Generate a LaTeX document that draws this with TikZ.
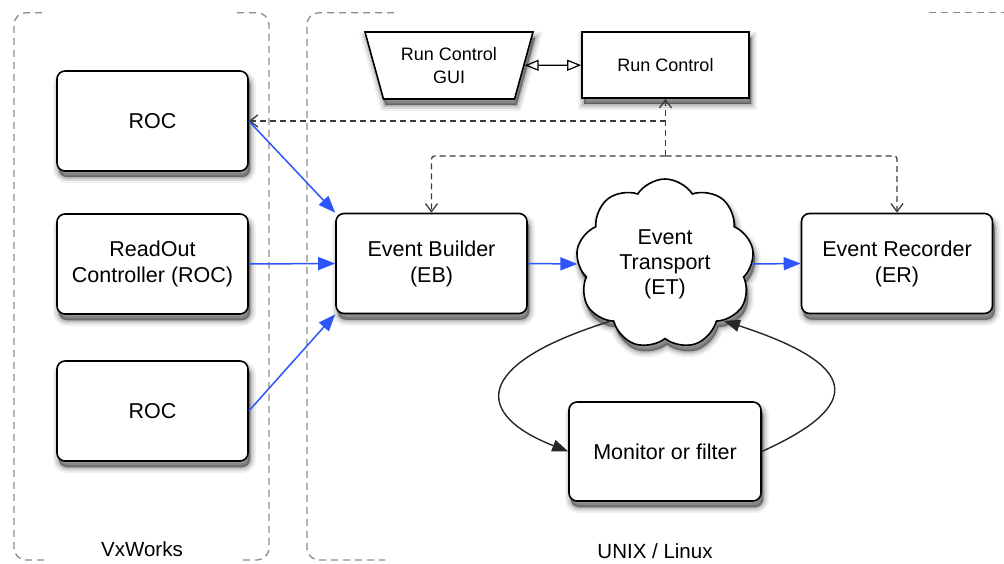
\documentclass[tikz,border=0pt]{standalone}
\usepackage{fontspec}
\setmainfont{Liberation Sans}
\usetikzlibrary{arrows.meta,shapes.geometric,shapes.symbols}
\definecolor{flowblue}{RGB}{45,85,250}
\definecolor{ctlgray}{RGB}{60,60,60}
\definecolor{boxgray}{RGB}{140,140,140}
\tikzset{
  shad/.style={
    preaction={draw=black,fill=black,line width=12pt,opacity=0.06,transform canvas={xshift=2pt,yshift=-6pt}},
    preaction={draw=black,fill=black,line width=8pt,opacity=0.09,transform canvas={xshift=2pt,yshift=-6pt}},
    preaction={draw=black,fill=black,line width=4pt,opacity=0.13,transform canvas={xshift=2pt,yshift=-6pt}},
    preaction={draw=black,fill=black,line width=1pt,opacity=0.18,transform canvas={xshift=2pt,yshift=-6pt}}},
  procbox/.style={draw,line width=1.6pt,fill=white,rounded corners=8pt,minimum width=191pt,minimum height=100pt,
    align=center,font=\fontsize{21.5}{26}\selectfont,shad,inner sep=0pt},
  flow/.style={draw=flowblue,line width=1.5pt,-{Triangle[length=17pt,width=13pt]}},
  ctl/.style={draw=ctlgray,line width=1.3pt,dash pattern=on 6pt off 4pt,-{Straight Barb[length=8pt,width=12pt]}},
  loopline/.style={draw=black!85,line width=1.4pt,-{Triangle[length=16pt,width=12pt]}},
  regionline/.style={draw=boxgray,line width=1.3pt,dash pattern=on 7pt off 5pt,rounded corners=12pt},
  regionlabel/.style={font=\fontsize{20.5}{24}\selectfont},
}
\begin{document}
\begin{tikzpicture}[x=1pt,y=-1pt]
\useasboundingbox (0,0) rectangle (1004,564);

% region outlines
\draw[regionline] (42,12.7) -- (14,12.7) -- (14,560) -- (48,560);
\draw[regionline] (237,12.7) -- (269,12.7) -- (269,560) -- (243,560);
\draw[regionline] (394,12.7) -- (307,12.7) -- (307,560) -- (385,560);
\draw[regionline] (929,12.7) -- (1004,12.7);
\node[regionlabel] (vx) at (142,549) {VxWorks};
\node[regionlabel] (ux) at (655,551) {UNIX / Linux};

% nodes
\node[procbox] (roca) at (152.5,121) {ROC};
\node[procbox] (rocb) at (152.5,264) {ReadOut\\Controller (ROC)};
\node[procbox] (rocc) at (152.5,411) {ROC};
\node[procbox] (eb) at (431.5,263.5) {Event Builder\\(EB)};
\node[procbox] (er) at (897,263.5) {Event Recorder\\(ER)};
\node[procbox,minimum width=192pt,minimum height=99pt] (mon) at (665,451.5) {Monitor or filter};
\node[procbox,rounded corners=0pt,minimum width=167pt,minimum height=66pt,font=\fontsize{18}{22}\selectfont] (rc) at (665.5,65) {Run Control};
\node[draw,line width=1.6pt,fill=white,trapezium,shape border rotate=180,trapezium angle=63,
  trapezium stretches body,minimum width=168pt,minimum height=67pt,inner sep=0pt,shad,
  align=center,font=\fontsize{18}{23}\selectfont] (gui) at (449,65.5) {Run Control\\GUI};
\node[draw,line width=1.6pt,fill=white,cloud,cloud puffs=9,cloud puff arc=115,cloud ignores aspect,
  minimum width=178pt,minimum height=170pt,inner sep=0pt,shad,align=center,
  font=\fontsize{21.5}{25}\selectfont] (et) at (665,264) {Event\\Transport\\(ET)};

% control connectors
\coordinate (j0) at (665.5,121);
\coordinate (j1) at (665.5,156);
\draw[draw=black,line width=1.2pt,{Triangle[open,length=14pt,width=11pt]}-{Triangle[open,length=14pt,width=11pt]}] (gui) -- (rc);
\draw[ctl] (j1) -- (rc.south);
\draw[ctl] (j0) -- (roca.east);
\draw[ctl,rounded corners=3pt] (j1) -| (eb.north);
\draw[ctl,rounded corners=3pt] (j1) -| (er.north);

% data flow
\draw[flow] (roca.east) -- (eb.north west);
\draw[flow] (rocb.east) -- (eb.west);
\draw[flow] (rocc.east) -- (eb.south west);
\draw[flow] (eb.east) -- (et.west);
\draw[flow] (et.east) -- (er.west);

% monitor loop
\draw[loopline] (et.226) .. controls (470,365) and (475,415) .. (mon.west);
\draw[loopline] (mon.east) .. controls (865,405) and (860,365) .. (et.-44);
\end{tikzpicture}
\end{document}
